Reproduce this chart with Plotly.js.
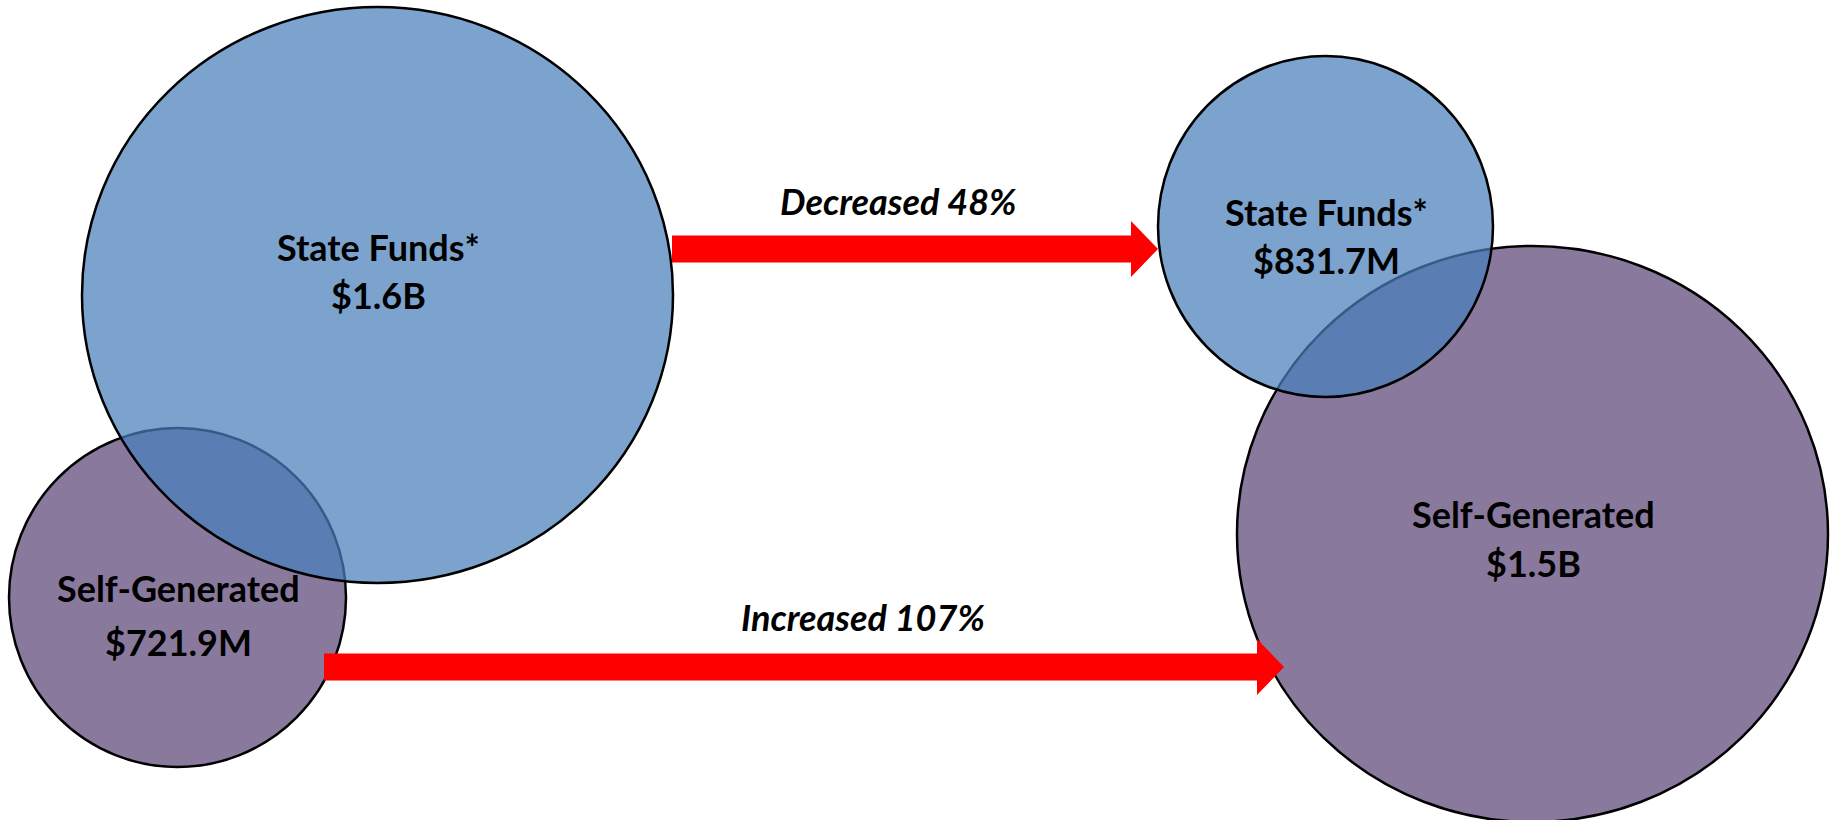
<!DOCTYPE html>
<html>
<head>
<meta charset="utf-8">
<script src="https://cdn.plot.ly/plotly-3.0.1.min.js"></script>
<style>
  html, body { margin: 0; padding: 0; background: #ffffff; }
  #chart { width: 1833px; height: 820px; }
</style>
</head>
<body>
<div id="chart"></div>
<script>
// ---- data ----
const categories   = ['State Funds*', 'Self-Generated'];
const beforeValues = ['$1.6B', '$721.9M'];
const afterValues  = ['$831.7M', '$1.5B'];
const changeLabels = ['Decreased 48%', 'Increased 107%'];

// ---- layout geometry (pixel-space axes) ----
const W = 1833, H = 820;
// circle boxes: [x0, y0, x1, y1]
const geom = {
  before: [[82, 7, 673, 583], [9, 428, 346, 767]],
  after:  [[1158, 56, 1493, 397], [1237, 246, 1828, 822]]
};
// label line offsets from circle centre: [name dy, value dy]
const labelDy = {
  before: [[-48, 0], [-10, 44]],
  after:  [[-15, 33], [-20, 29]]
};
const fills = ['rgba(72,127,187,0.72)', 'rgb(137,121,157)'];

function cx(b) { return (b[0] + b[2]) / 2; }
function cy(b) { return (b[1] + b[3]) / 2; }

const shapes = [];
// purple (self-generated) below, blue (state) translucent above
[1, 0].forEach(function (i) {
  ['before', 'after'].forEach(function (k) {
    const b = geom[k][i];
    shapes.push({
      type: 'circle', xref: 'x', yref: 'y',
      x0: b[0], y0: b[1], x1: b[2], y1: b[3],
      fillcolor: fills[i],
      line: { color: '#000000', width: 2.5 },
      layer: 'above'
    });
  });
});

// arrows
function arrowPath(x0, x1, yc, shaftH, headW, headH) {
  const xs = x1 - headW;
  return 'M' + x0 + ',' + (yc - shaftH / 2) +
         ' L' + xs + ',' + (yc - shaftH / 2) +
         ' L' + xs + ',' + (yc - headH / 2) +
         ' L' + x1 + ',' + yc +
         ' L' + xs + ',' + (yc + headH / 2) +
         ' L' + xs + ',' + (yc + shaftH / 2) +
         ' L' + x0 + ',' + (yc + shaftH / 2) + ' Z';
}
const arrows = [
  { x0: 672, x1: 1158, yc: 249 },
  { x0: 324, x1: 1284, yc: 667 }
];
arrows.forEach(function (a) {
  shapes.push({
    type: 'path', xref: 'x', yref: 'y',
    path: arrowPath(a.x0, a.x1, a.yc, 27, 27, 56),
    fillcolor: '#FF0000', line: { width: 0 }, layer: 'above'
  });
});

const labelFont = { family: 'Lato, "Open Sans", sans-serif', size: 36, color: '#000000' };
const annotations = [];
['before', 'after'].forEach(function (k) {
  const vals = k === 'before' ? beforeValues : afterValues;
  geom[k].forEach(function (b, i) {
    const lx = cx(b) + 1;
    const c = cy(b);
    annotations.push({
      xref: 'x', yref: 'y', x: lx, y: c + labelDy[k][i][0], text: '<b>' + categories[i] + '</b>',
      showarrow: false, font: labelFont, xanchor: 'center', yanchor: 'middle'
    });
    annotations.push({
      xref: 'x', yref: 'y', x: lx, y: c + labelDy[k][i][1], text: '<b>' + vals[i] + '</b>',
      showarrow: false, font: labelFont, xanchor: 'center', yanchor: 'middle'
    });
  });
});
const changePos = [[898, 201], [863, 617]];
changeLabels.forEach(function (t, i) {
  annotations.push({
    xref: 'x', yref: 'y', x: changePos[i][0], y: changePos[i][1],
    text: '<b><i>' + t + '</i></b>', showarrow: false,
    font: { family: 'Lato, "Open Sans", sans-serif', size: 36, color: '#000000' },
    xanchor: 'center', yanchor: 'middle'
  });
});

const layout = {
  width: W, height: H,
  margin: { l: 0, r: 0, t: 0, b: 0, pad: 0 },
  paper_bgcolor: '#ffffff', plot_bgcolor: '#ffffff',
  showlegend: false,
  xaxis: { range: [0, W], visible: false, fixedrange: true },
  yaxis: { range: [H, 0], visible: false, fixedrange: true },
  shapes: shapes,
  annotations: annotations
};

Plotly.newPlot('chart', [{ x: [], y: [], type: 'scatter', mode: 'markers', hoverinfo: 'skip' }], layout,
  { staticPlot: true, displayModeBar: false });
</script>
</body>
</html>
